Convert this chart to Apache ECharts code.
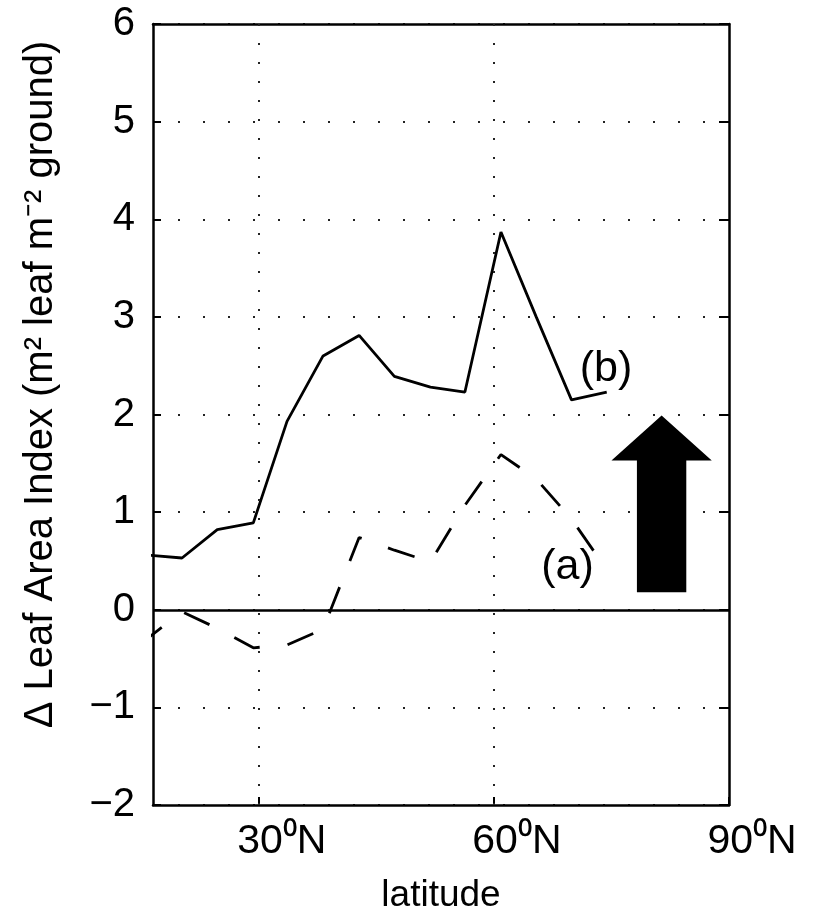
<!DOCTYPE html>
<html>
<head>
<meta charset="utf-8">
<title>Leaf Area Index change with latitude</title>
<script src="https://cdn.jsdelivr.net/npm/echarts@6/dist/echarts.min.js"></script>
<style>
  html, body { margin: 0; padding: 0; background: #fff; }
  #chart { width: 813px; height: 914px; }
</style>
</head>
<body>
<div id="chart"></div>
<script>
// values
const latitudes = [15.7, 20.2, 24.7, 29.3, 33.6, 38.2, 42.8, 47.3, 51.9, 56.3, 60.9, 65.4, 69.9, 74.4];
const curveB = [0.56, 0.53, 0.82, 0.89, 1.93, 2.60, 2.81, 2.39, 2.28, 2.23, 3.87, 3.00, 2.15, 2.23];
const curveA = [-0.30, -0.02, -0.19, -0.39, -0.36, -0.20, 0.74, 0.61, 0.49, 1.07, 1.59, 1.34, 0.93, 0.41];
const xTicks = [30, 60, 90];
const xTickLabels = ['30⁰N', '60⁰N', '90⁰N'];
const xGridLines = [30, 60];
const curveLabels = [[74.3, 2.46, '(b)'], [69.4, 0.44, '(a)']];
// arrow: x, tip y, head base y, tail y, head half width, shaft half width (data units)
const arrow = [81.4, 1.99, 1.53, 0.18, 6.4, 3.15];

const FONT = '"Liberation Sans", Arial, sans-serif';
const axisLine = { show: true, onZero: false, lineStyle: { color: '#000', width: 2.5 } };

const chart = echarts.init(document.getElementById('chart'));
chart.setOption({
  animation: false,
  backgroundColor: '#fff',
  textStyle: { fontFamily: FONT, color: '#000' },
  grid: { left: 153, right: 84, top: 24, bottom: 109, outerBoundsMode: 'none' },
  xAxis: [
    {
      type: 'value', min: 16.5, max: 90, position: 'bottom',
      axisLine: axisLine,
      axisTick: { inside: true, length: 8, customValues: xTicks, lineStyle: { color: '#000', width: 2 } },
      axisLabel: {
        customValues: xTicks,
        formatter: v => xTickLabels[xTicks.indexOf(v)],
        fontSize: 41, color: '#000', fontFamily: FONT, margin: 16,
        padding: [0, 0, 0, 46]
      },
      splitLine: { show: false },
      name: 'latitude', nameLocation: 'middle', nameGap: 72,
      nameTextStyle: { fontSize: 37, color: '#000', fontFamily: FONT }
    },
    {
      type: 'value', min: 16.5, max: 90, position: 'top',
      axisLine: axisLine, axisTick: { show: false }, axisLabel: { show: false }, splitLine: { show: false }
    }
  ],
  yAxis: [
    {
      type: 'value', min: -2, max: 6, interval: 1, position: 'left',
      axisLine: axisLine,
      axisTick: { inside: true, length: 8, lineStyle: { color: '#000', width: 2 } },
      axisLabel: {
        fontSize: 40, color: '#000', fontFamily: FONT, margin: 18,
        padding: [14, 0, 0, 0],
        formatter: v => String(v).replace('-', '\u2212')
      },
      splitLine: { show: true, lineStyle: { color: '#222', width: 2, type: [2, 23] } },
      name: '\u0394 Leaf Area Index (m\u00b2 leaf m\u207b\u00b2 ground)',
      nameLocation: 'middle', nameRotate: 90, nameGap: 92,
      nameTextStyle: { fontSize: 40, color: '#000', fontFamily: FONT, padding: [0, 0, 0, 60] }
    },
    {
      type: 'value', min: -2, max: 6, interval: 1, position: 'right',
      axisLine: axisLine,
      axisTick: { inside: true, length: 10, lineStyle: { color: '#000', width: 2 } },
      axisLabel: { show: false }, splitLine: { show: false }
    }
  ],
  series: [
    {
      name: '(b)', type: 'line', showSymbol: false, symbol: 'none',
      data: latitudes.map((x, i) => [x, curveB[i]]),
      lineStyle: { color: '#000', width: 2.8 },
      markLine: {
        silent: true, symbol: ['none', 'none'], label: { show: false },
        data: [
          { yAxis: 0, lineStyle: { color: '#000', width: 2.5, type: 'solid' } }
        ].concat(xGridLines.map(v => ({ xAxis: v, lineStyle: { color: '#222', width: 2, type: [2, 17] } })))
      },
      z: 3
    },
    {
      name: '(a)', type: 'line', showSymbol: false, symbol: 'none',
      data: latitudes.map((x, i) => [x, curveA[i]]),
      lineStyle: { color: '#000', width: 2.8, type: [28, 28], dashOffset: 9 },
      z: 3
    },
    {
      type: 'custom', silent: true,
      data: curveLabels,
      renderItem: (params, api) => {
        const p = api.coord([api.value(0), api.value(1)]);
        return {
          type: 'text', x: p[0], y: p[1],
          style: { text: curveLabels[params.dataIndex][2], fill: '#000', font: '43px ' + FONT, align: 'center', verticalAlign: 'middle' }
        };
      },
      z: 4
    },
    {
      type: 'custom', silent: true,
      data: [arrow],
      renderItem: (params, api) => {
        const x = api.value(0), tip = api.value(1), head = api.value(2), tail = api.value(3);
        const hw = api.value(4), sw = api.value(5);
        const pts = [
          [x, tip], [x + hw, head], [x + sw, head], [x + sw, tail],
          [x - sw, tail], [x - sw, head], [x - hw, head]
        ].map(d => api.coord(d));
        return { type: 'polygon', shape: { points: pts }, style: { fill: '#000' } };
      },
      z: 4
    }
  ]
});
</script>
</body>
</html>
